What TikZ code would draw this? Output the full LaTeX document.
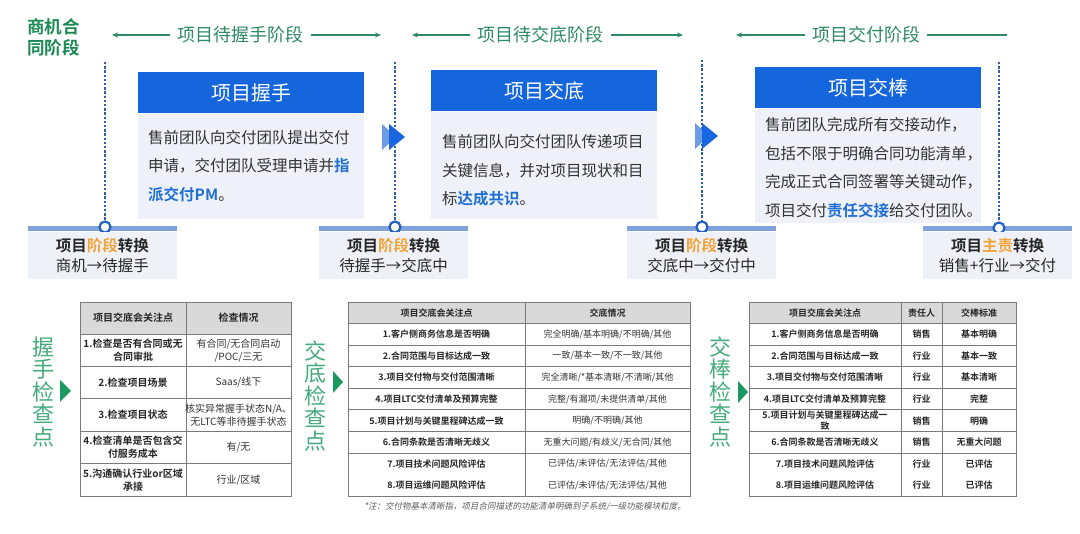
\documentclass[tikz,border=0pt]{standalone}
\usepackage{fontspec}
\setmainfont{Noto Sans CJK SC}[BoldFont={Noto Sans CJK SC Bold}]
\newfontfamily\notefont{Noto Sans CJK SC}[FakeSlant=0.2]
\usepackage{tikz}
\usetikzlibrary{arrows.meta, positioning}

\definecolor{hdblue}{HTML}{1565DC}
\definecolor{bodybg}{HTML}{EEF1FA}
\definecolor{hlblue}{HTML}{1F6FD1}
\definecolor{stgreen}{HTML}{2E8A62}
\definecolor{dkgreen}{HTML}{1B8A55}
\definecolor{ckgreen}{HTML}{45AA7C}
\definecolor{trigreen}{HTML}{1A9A5E}
\definecolor{barblue}{HTML}{7FA2DA}
\definecolor{dotblue}{HTML}{2F5DA6}
\definecolor{ringblue}{HTML}{2461BE}
\definecolor{accent}{HTML}{F2A43A}
\definecolor{lblbg}{HTML}{EEF1F8}
\definecolor{thgray}{HTML}{D9D9D9}
\definecolor{gridgray}{HTML}{7A7A7A}
\definecolor{chevlight}{HTML}{6E9BE6}
\definecolor{chevdark}{HTML}{1A66E0}
\definecolor{txtdark}{HTML}{262626}
\definecolor{txtbody}{HTML}{333333}

\newcommand\hlt[1]{\textcolor{hlblue}{\textbf{#1}}}

\tikzset{
  stage/.style={font=\fontsize{18}{20}\selectfont, text=stgreen, inner xsep=7pt, inner ysep=0pt},
  stagearr/.style={stgreen, line width=1.4pt, -{Stealth[length=6pt, width=5pt]}},
  hdbox/.style={fill=hdblue, text=white, minimum width=226pt, minimum height=41pt, anchor=north west, inner sep=0pt, font=\fontsize{20}{24}\selectfont},
  bodybox/.style={fill=bodybg, minimum width=226pt, anchor=north west, inner sep=0pt},
  bodytxt/.style={anchor=west, align=left, inner sep=0pt, text=txtbody, font=\fontsize{15.5}{28.5}\selectfont},
  dotline/.style={dotblue, line width=2.8pt, dash pattern=on 2.4pt off 1.8pt},
  ring/.style={circle, draw=ringblue, fill=white, line width=2.2pt, minimum size=11pt, inner sep=0pt},
  bar/.style={fill=barblue, minimum width=149pt, minimum height=5pt, inner sep=0pt},
  lbl/.style={fill=lblbg, minimum width=149pt, minimum height=47pt, align=center, anchor=north, font=\fontsize{15.5}{20}\selectfont, text=txtdark, inner sep=0pt},
  ckl/.style={align=center, text=ckgreen, font=\fontsize{22}{22.5}\selectfont, inner sep=0pt},
  gridline/.style={gridgray, line width=0.8pt},
  thb/.style={font=\bfseries\fontsize{9}{11.5}\selectfont, text=txtdark, align=center, inner sep=0pt},
  tdb/.style={font=\bfseries\fontsize{9}{11.5}\selectfont, text=txtdark, align=center, inner sep=0pt},
  td/.style={font=\fontsize{9}{11.5}\selectfont, text=txtbody, align=center, inner sep=0pt},
  note/.style={font=\notefont\fontsize{8.5}{10}\selectfont, text=txtbody!80, inner sep=0pt}
}

\begin{document}
\begin{tikzpicture}[x=1pt, y=-1pt]
  \useasboundingbox (0,0) rectangle (1080,534);

  % stages along the top
  \node[font=\bfseries\fontsize{17.5}{20.5}\selectfont, text=dkgreen, align=left, inner sep=0pt] (opp) at (53.5,37.5) {商机合\\同阶段};
  \coordinate (s1l) at (112,35); \coordinate (s1r) at (381,35);
  \coordinate (s2l) at (412,35); \coordinate (s2r) at (683,35);
  \coordinate (s3l) at (736,35); \coordinate (s3r) at (1007,35);
  \node[stage] (s1) at (240.5,35) {项目待握手阶段};
  \node[stage] (s2) at (540.5,35) {项目待交底阶段};
  \node[stage] (s3) at (866,35) {项目交付阶段};
  \draw[stagearr] (s1.west) -- (s1l);
  \draw[stagearr] (s1.east) -- (s1r);
  \draw[stagearr] (s2.west) -- (s2l);
  \draw[stagearr] (s2.east) -- (s2r);
  \draw[stagearr] (s3.west) -- (s3l);
  \draw[stgreen, line width=1.4pt] (s3.east) -- (s3r);

  % milestone bars, rings and dotted guides
  \node[bar] (bar1) at (102.5,229) {};
  \node[bar] (bar2) at (393.5,229) {};
  \node[bar] (bar3) at (701.5,229) {};
  \node[bar] (bar4) at (997.5,229) {};
  \coordinate (d1) at (105,62); \coordinate (d2) at (395,62);
  \coordinate (d3) at (702,60); \coordinate (d4) at (999,62);
  \node[ring] (c1) at (105,227) {};
  \node[ring] (c2) at (395,227) {};
  \node[ring] (c3) at (702,227) {};
  \node[ring] (c4) at (999,228) {};
  \draw[dotline] (d1) -- (c1);
  \draw[dotline] (d2) -- (c2);
  \draw[dotline] (d3) -- (c3);
  \draw[dotline] (d4) -- (c4);

  \node[lbl] (l1) at (bar1.south) {\textbf{项目\textcolor{accent}{阶段}转换}\\商机→待握手};
  \node[lbl] (l2) at (bar2.south) {\textbf{项目\textcolor{accent}{阶段}转换}\\待握手→交底中};
  \node[lbl] (l3) at (bar3.south) {\textbf{项目\textcolor{accent}{阶段}转换}\\交底中→交付中};
  \node[lbl] (l4) at (bar4.south) {\textbf{项目\textcolor{accent}{主责}转换}\\销售+行业→交付};

  % the three step boxes
  \node[hdbox] (h1) at (138,72) {项目握手};
  \node[bodybox, minimum height=105pt] (b1) at (h1.south west) {};
  \node[bodytxt] (t1) at ([xshift=10pt]b1.west) {售前团队向交付团队提出交付\\申请，交付团队受理申请并\hlt{指}\\\hlt{派交付PM}。};

  \node[hdbox] (h2) at (431,70) {项目交底};
  \node[bodybox, minimum height=107pt] (b2) at (h2.south west) {};
  \node[bodytxt] (t2) at ([xshift=11pt, yshift=-5.5pt]b2.west) {售前团队向交付团队传递项目\\关键信息，并对项目现状和目\\标\hlt{达成共识}。};

  \node[hdbox] (h3) at (755,67) {项目交棒};
  \node[bodybox, minimum height=114pt] (b3) at (h3.south west) {};
  \node[bodytxt] (t3) at ([xshift=10pt, yshift=-2pt]b3.west) {售前团队完成所有交接动作，\\包括不限于明确合同功能清单，\\完成正式合同签署等关键动作，\\项目交付\hlt{责任交接}给交付团队。};

  \foreach \dx/\dy in {0/0, 313/-1} {
    \fill[chevlight] (382+\dx,124+\dy) -- (396+\dx,137+\dy) -- (382+\dx,150+\dy) -- cycle;
    \fill[chevdark] (389+\dx,124+\dy) -- (405+\dx,137+\dy) -- (389+\dx,150+\dy) -- cycle;
  }

  % check points
  \node[ckl] (k1) at (43,392) {握\\手\\检\\查\\点};
  \node[ckl] (k2) at (315,396) {交\\底\\检\\查\\点};
  \node[ckl] (k3) at (720,392) {交\\棒\\检\\查\\点};
  \fill[trigreen] (60,380) -- (71,391) -- (60,402) -- cycle;
  \fill[trigreen] (333,371) -- (343,382) -- (333,393) -- cycle;
  \fill[trigreen] (738,381) -- (748,392) -- (738,403) -- cycle;

  % table 1
  \fill[thgray] (80,302) rectangle (291,334);
  \foreach \i in {0,...,4} \draw[gridline] (80,{334+32.4*\i}) -- (291,{334+32.4*\i});
  \draw[gridline] (80,302) rectangle (291,496);
  \draw[gridline] (186,302) -- (186,496);
  \node[thb, font=\bfseries\fontsize{10}{13}\selectfont] (t1h1) at (133,318) {项目交底会关注点};
  \node[thb, font=\bfseries\fontsize{10}{13}\selectfont] (t1h2) at (238.5,318) {检查情况};
  \foreach \a/\b [count=\i] in {{1.检查是否有合同或无\\合同审批}/{有合同/无合同启动\\/POC/三无},
      {2.检查项目场景}/{Saas/线下},
      {3.检查项目状态}/{核实异常握手状态N/A、\\无LTC等非待握手状态},
      {4.检查清单是否包含交\\付服务成本}/{有/无},
      {5.沟通确认行业or区域\\承接}/{行业/区域}} {
    \node[tdb, font=\bfseries\fontsize{10}{13}\selectfont] (t1a\i) at (133,{317.8+32.4*\i}) {\a};
    \node[td, font=\fontsize{10}{13}\selectfont] (t1b\i) at (238.5,{317.8+32.4*\i}) {\b};
  }

  % table 2
  \fill[thgray] (348,302) rectangle (690,323.5);
  \foreach \i in {0,...,6} \draw[gridline] (348,{323.5+21.6*\i}) -- (690,{323.5+21.6*\i});
  \draw[gridline] (348,302) rectangle (690,496);
  \draw[gridline] (525,302) -- (525,496);
  \node[thb] (t2h1) at (436.5,312.7) {项目交底会关注点};
  \node[thb] (t2h2) at (607.5,312.7) {交底情况};
  \foreach \a/\b [count=\i] in {{1.客户侧商务信息是否明确}/{完全明确/基本明确/不明确/其他},
      {2.合同范围与目标达成一致}/{一致/基本一致/不一致/其他},
      {3.项目交付物与交付范围清晰}/{完全清晰/*基本清晰/不清晰/其他},
      {4.项目LTC交付清单及预算完整}/{完整/有漏项/未提供清单/其他},
      {5.项目计划与关键里程碑达成一致}/{明确/不明确/其他},
      {6.合同条款是否清晰无歧义}/{无重大问题/有歧义/无合同/其他},
      {7.项目技术问题风险评估}/{已评估/未评估/无法评估/其他},
      {8.项目运维问题风险评估}/{已评估/未评估/无法评估/其他}} {
    \node[tdb] (t2a\i) at (436.5,{312.7+21.6*\i}) {\a};
    \node[td] (t2b\i) at (607.5,{312.7+21.6*\i}) {\b};
  }
  \node[note] (fn) at (525,507) {*注：交付物基本清晰指，项目合同描述的功能清单明确到子系统/一级功能模块粒度。};

  % table 3
  \fill[thgray] (749,302) rectangle (1016,323.5);
  \foreach \i in {0,...,6} \draw[gridline] (749,{323.5+21.6*\i}) -- (1016,{323.5+21.6*\i});
  \draw[gridline] (749,302) rectangle (1016,496);
  \draw[gridline] (901,302) -- (901,496);
  \draw[gridline] (942,302) -- (942,496);
  \node[thb] (t3h1) at (825,312.7) {项目交底会关注点};
  \node[thb] (t3h2) at (921.5,312.7) {责任人};
  \node[thb] (t3h3) at (979,312.7) {交棒标准};
  \foreach \a/\b/\c [count=\i] in {{1.客户侧商务信息是否明确}/销售/基本明确,
      {2.合同范围与目标达成一致}/行业/基本一致,
      {3.项目交付物与交付范围清晰}/行业/基本清晰,
      {4.项目LTC交付清单及预算完整}/行业/完整,
      {5.项目计划与关键里程碑达成一\\致}/销售/明确,
      {6.合同条款是否清晰无歧义}/销售/无重大问题,
      {7.项目技术问题风险评估}/行业/已评估,
      {8.项目运维问题风险评估}/行业/已评估} {
    \node[tdb] (t3a\i) at (825,{312.7+21.6*\i}) {\a};
    \node[tdb] (t3b\i) at (921.5,{312.7+21.6*\i}) {\b};
    \node[tdb] (t3c\i) at (979,{312.7+21.6*\i}) {\c};
  }
\end{tikzpicture}
\end{document}
